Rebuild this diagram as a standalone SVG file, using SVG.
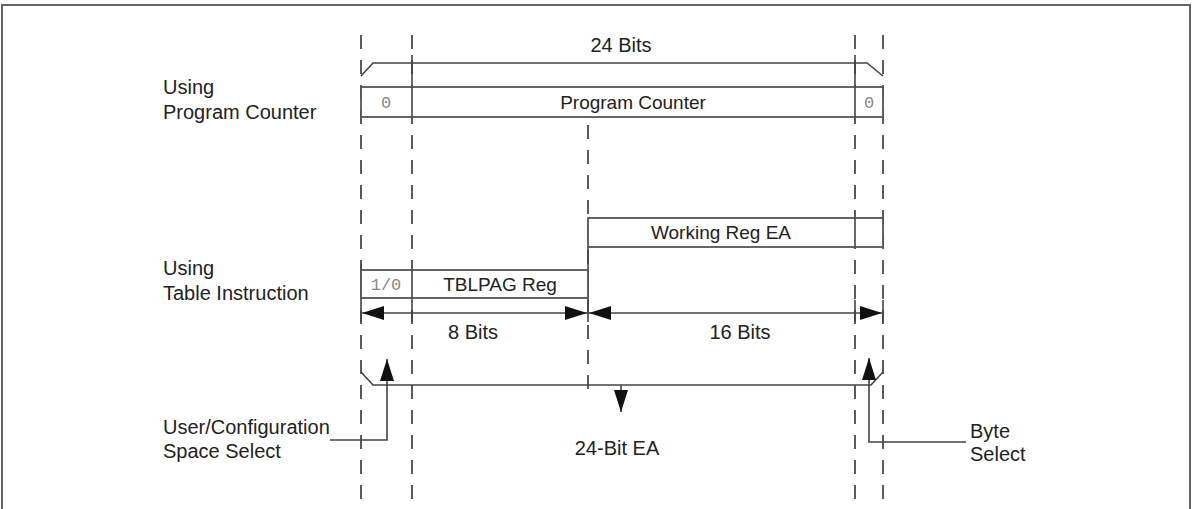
<svg xmlns="http://www.w3.org/2000/svg" width="1193" height="509" viewBox="0 0 1193 509">
<style>
.t{font-family:"Liberation Sans",Arial,sans-serif;font-size:20px;fill:#222}
.b{font-family:"Liberation Sans",Arial,sans-serif;font-size:19px;fill:#222;text-anchor:middle}
.m{font-family:"Liberation Mono","Courier New",monospace;font-size:17px;fill:#888;text-anchor:middle}
.d{stroke:#333;stroke-width:1.6;stroke-dasharray:14 11;fill:none}
.s{stroke:#444;stroke-width:1.6;fill:none}
.box{fill:#fff;stroke:#555;stroke-width:1.8}
</style>
<defs>
<marker id="ah" viewBox="0 0 22 14" refX="22" refY="7" markerWidth="22" markerHeight="14" markerUnits="userSpaceOnUse" orient="auto-start-reverse">
<path d="M0,0 L22,7 L0,14 Z" fill="#111"/>
</marker>
</defs>
<rect width="1193" height="509" fill="#fff"/>
<path d="M2,509 V5 H1190 V509" fill="none" stroke="#666" stroke-width="2"/>
<g id="guides">
<line class="d" x1="361" y1="35" x2="361" y2="500"/>
<line class="d" x1="412" y1="35" x2="412" y2="500"/>
<line class="d" x1="855" y1="35" x2="855" y2="500"/>
<line class="d" x1="883" y1="35" x2="883" y2="500"/>
<line class="d" x1="588" y1="125" x2="588" y2="400"/>
<line class="s" x1="412" y1="55" x2="412" y2="87"/>
<line class="s" x1="855" y1="55" x2="855" y2="87"/>
<line class="s" x1="588" y1="247" x2="588" y2="322"/>
<line class="s" x1="361" y1="265" x2="361" y2="322"/>
<line class="s" x1="412" y1="298" x2="412" y2="322"/>
<line class="s" x1="855" y1="300" x2="855" y2="322"/>
<line class="s" x1="883" y1="300" x2="883" y2="322"/>
</g>
<g id="bracket-top">
<path class="s" d="M361,76 L373,63 H867 L883,76"/>
<text class="t" x="621" y="52" text-anchor="middle">24 Bits</text>
</g>
<g id="label-pc">
<text class="t" x="163" y="94">Using</text>
<text class="t" x="163" y="119">Program Counter</text>
</g>
<g id="pc-reg">
<rect class="box" x="361" y="87" width="522" height="30"/>
<line class="s" x1="412" y1="87" x2="412" y2="117"/>
<line class="s" x1="855" y1="87" x2="855" y2="117"/>
<text class="m" x="386" y="108">0</text>
<text class="b" x="633" y="109">Program Counter</text>
<text class="m" x="869" y="108">0</text>
</g>
<g id="working-reg">
<rect class="box" x="588" y="218" width="295" height="29"/>
<line class="s" x1="855" y1="218" x2="855" y2="247"/>
<text class="b" x="721" y="239">Working Reg EA</text>
</g>
<g id="label-table">
<text class="t" x="163" y="275">Using</text>
<text class="t" x="163" y="300">Table Instruction</text>
</g>
<g id="tblpag-reg">
<rect class="box" x="361" y="270" width="227" height="28"/>
<line class="s" x1="412" y1="270" x2="412" y2="298"/>
<text class="m" x="386" y="290">1/0</text>
<text class="b" x="500" y="291">TBLPAG Reg</text>
</g>
<g id="connectors">
<line class="s" x1="362" y1="313" x2="587" y2="313" marker-start="url(#ah)" marker-end="url(#ah)"/>
<line class="s" x1="589" y1="313" x2="882" y2="313" marker-start="url(#ah)" marker-end="url(#ah)"/>
<path class="s" d="M361,372 L373,385 H871 L883,372"/>
<line class="s" x1="621" y1="385" x2="621" y2="412" marker-end="url(#ah)"/>
<path class="s" d="M330,440 H387 V359" marker-end="url(#ah)"/>
<path class="s" d="M966,442 H869 V358" marker-end="url(#ah)"/>
</g>
<g id="labels">
<text class="t" x="473" y="339" text-anchor="middle">8 Bits</text>
<text class="t" x="740" y="339" text-anchor="middle">16 Bits</text>
<text class="t" x="617" y="455" text-anchor="middle">24-Bit EA</text>
<text class="t" x="163" y="434">User/Configuration</text>
<text class="t" x="163" y="458">Space Select</text>
<text class="t" x="970" y="438">Byte</text>
<text class="t" x="970" y="461">Select</text>
</g>
</svg>
